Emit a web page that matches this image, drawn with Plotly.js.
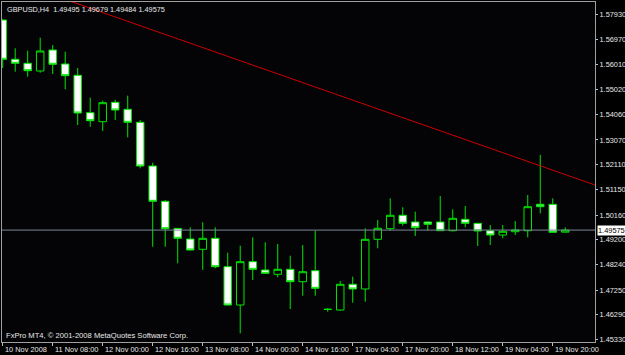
<!DOCTYPE html>
<html><head><meta charset="utf-8">
<script src="https://cdn.plot.ly/plotly-3.0.1.min.js"></script>
<style>html,body{margin:0;padding:0;background:#000;}#chart{width:625px;height:355px;}</style>
</head><body><div id="chart"></div>
<script>
const barTimes = ["10 Nov 16:00","10 Nov 20:00","11 Nov 00:00","11 Nov 04:00","11 Nov 08:00","11 Nov 12:00","11 Nov 16:00","11 Nov 20:00",
"12 Nov 00:00","12 Nov 04:00","12 Nov 08:00","12 Nov 12:00","12 Nov 16:00","12 Nov 20:00","13 Nov 00:00","13 Nov 04:00",
"13 Nov 08:00","13 Nov 12:00","13 Nov 16:00","13 Nov 20:00","14 Nov 00:00","14 Nov 04:00","14 Nov 08:00","14 Nov 12:00",
"14 Nov 16:00","14 Nov 20:00","16 Nov 20:00","17 Nov 00:00","17 Nov 04:00","17 Nov 08:00","17 Nov 12:00","17 Nov 16:00",
"17 Nov 20:00","18 Nov 00:00","18 Nov 04:00","18 Nov 08:00","18 Nov 12:00","18 Nov 16:00","18 Nov 20:00","19 Nov 00:00",
"19 Nov 04:00","19 Nov 08:00","19 Nov 12:00","19 Nov 16:00","19 Nov 20:00","20 Nov 00:00"];
const openP  = [1.57724,1.56200,1.56045,1.55746,1.56561,1.56017,1.55579,1.54128,1.53779,1.54532,1.54260,1.53756,1.52061,1.50691,1.49640,1.49229,
1.48830,1.49256,1.48155,1.46669,1.48349,1.48027,1.47860,1.48054,1.47573,1.48000,1.46502,1.46475,1.47472,1.47290,1.49217,1.49629,
1.50149,1.49889,1.49889,1.49889,1.49551,1.49993,1.49838,1.49551,1.49384,1.49512,1.49551,1.50575,1.50575,1.49495];
const highP  = [1.57763,1.56626,1.56533,1.57038,1.56754,1.56495,1.55862,1.54710,1.54594,1.54621,1.54788,1.53845,1.52189,1.50742,1.49660,1.49683,
1.49877,1.49683,1.48698,1.48969,1.49295,1.49101,1.49035,1.48581,1.48996,1.49551,1.46541,1.47600,1.47767,1.49644,1.49966,1.50808,
1.50459,1.50288,1.49900,1.50897,1.50381,1.50509,1.49850,1.49772,1.49772,1.49927,1.50936,1.52488,1.50808,1.49679];
const lowP   = [1.55862,1.55719,1.55525,1.55680,1.55630,1.55036,1.53651,1.53585,1.53419,1.53845,1.53174,1.51972,1.48930,1.48930,1.48286,1.48775,
1.48027,1.48093,1.46649,1.45571,1.47639,1.47871,1.47744,1.46514,1.47030,1.47030,1.46409,1.46448,1.46758,1.46797,1.48868,1.49551,
1.49745,1.49345,1.49551,1.49540,1.49520,1.49683,1.48958,1.48996,1.49256,1.49384,1.49295,1.50226,1.49481,1.49484];
const closeP = [1.56200,1.56045,1.55758,1.56522,1.56006,1.55564,1.54117,1.53818,1.54516,1.54233,1.53756,1.52061,1.50691,1.49629,1.49256,1.48802,
1.49256,1.48155,1.46669,1.48349,1.48054,1.47898,1.48054,1.47573,1.47961,1.47317,1.46500,1.47472,1.47290,1.49217,1.49644,1.50149,
1.49838,1.49667,1.49800,1.49551,1.50032,1.49838,1.49540,1.49384,1.49528,1.49578,1.50482,1.50482,1.49489,1.49575];
const tickBars   = ["10 Nov 16:00","11 Nov 08:00","12 Nov 00:00","12 Nov 16:00","13 Nov 08:00","14 Nov 00:00","14 Nov 16:00","17 Nov 04:00","17 Nov 20:00","18 Nov 12:00","19 Nov 04:00","19 Nov 20:00"];
const tickLabels = ["10 Nov 2008","11 Nov 08:00","12 Nov 00:00","12 Nov 16:00","13 Nov 08:00","14 Nov 00:00","14 Nov 16:00","17 Nov 04:00","17 Nov 20:00","18 Nov 12:00","19 Nov 04:00","19 Nov 20:00"];
const priceTicks = [1.57930,1.56970,1.56010,1.55020,1.54060,1.53070,1.52110,1.51150,1.50160,1.49200,1.48240,1.47250,1.46290,1.45330];
const bidPrice = 1.49575;
const trendX = [5.52, 47.38];
const trendY = [1.58434, 1.51324];
const lastBar = [1.49495, 1.49679, 1.49484, 1.49575];

const GREEN = '#00e600';
const txt = '#e8e8e8';
const font = 'Liberation Sans, Arial, sans-serif';

const candle = {
  type: 'candlestick', x: barTimes, open: openP, high: highP, low: lowP, close: closeP,
  increasing: {line: {color: GREEN, width: 1}, fillcolor: '#000000'},
  decreasing: {line: {color: GREEN, width: 1}, fillcolor: '#ffffff'},
  whiskerwidth: 0, hoverinfo: 'skip', showlegend: false
};

const annotations = [
  {xref: 'paper', yref: 'paper', x: 0, y: 1, xanchor: 'left', yanchor: 'top', xshift: 3, yshift: -1, showarrow: false,
   text: 'GBPUSD,H4  ' + lastBar.map(v => v.toFixed(5)).join(' '), font: {family: font, size: 7.3, color: txt}},
  {xref: 'paper', yref: 'paper', x: 0, y: 0, xanchor: 'left', yanchor: 'bottom', xshift: 2, yshift: 0, showarrow: false,
   text: 'FxPro MT4, \u00a9 2001-2008 MetaQuotes Software Corp.', font: {family: font, size: 7.6, color: txt}},
  {xref: 'paper', yref: 'y', x: 1, y: bidPrice, xanchor: 'left', yanchor: 'middle', xshift: 2, showarrow: false,
   text: bidPrice.toFixed(5), bgcolor: '#ffffff', borderpad: 0, font: {family: font, size: 7.4, color: '#000000'}}
];
tickBars.forEach((b, i) => annotations.push({
  xref: 'x', yref: 'paper', x: b, y: 0, xanchor: 'left', yanchor: 'top', xshift: 0, yshift: -1, showarrow: false,
  text: tickLabels[i], font: {family: font, size: 7.4, color: txt}
}));

const layout = {
  width: 625, height: 355,
  margin: {l: 2, r: 30, t: 2, b: 13},
  paper_bgcolor: '#000000', plot_bgcolor: '#040406',
  showlegend: false, boxgap: 0.4, boxgroupgap: 0,
  xaxis: {type: 'category', range: [-0.056, 47.38], rangeslider: {visible: false},
    tickvals: tickBars, ticktext: tickLabels, showticklabels: false, ticks: 'outside', ticklen: 3, tickcolor: '#c0c0c0',
    showgrid: false, zeroline: false, showline: true, linecolor: '#a0a0a0', linewidth: 1, mirror: true, fixedrange: true},
  yaxis: {range: [1.45234, 1.58422], side: 'right', tickvals: priceTicks,
    ticktext: priceTicks.map(v => v.toFixed(5)), ticks: 'outside', ticklen: 2, tickcolor: '#c0c0c0',
    ticklabelstandoff: 0, tickfont: {family: font, size: 7.4, color: txt},
    showgrid: false, zeroline: false, showline: true, linecolor: '#a0a0a0', linewidth: 1, mirror: true, fixedrange: true},
  shapes: [
    {type: 'line', xref: 'paper', yref: 'y', x0: 0, x1: 1, y0: bidPrice, y1: bidPrice, line: {color: '#778899', width: 1}},
    {type: 'line', xref: 'x', yref: 'y', x0: trendX[0], x1: trendX[1], y0: trendY[0], y1: trendY[1], line: {color: '#cc0000', width: 1}}
  ],
  annotations: annotations
};
Plotly.newPlot('chart', [candle], layout, {displayModeBar: false, staticPlot: true});
</script></body></html>
